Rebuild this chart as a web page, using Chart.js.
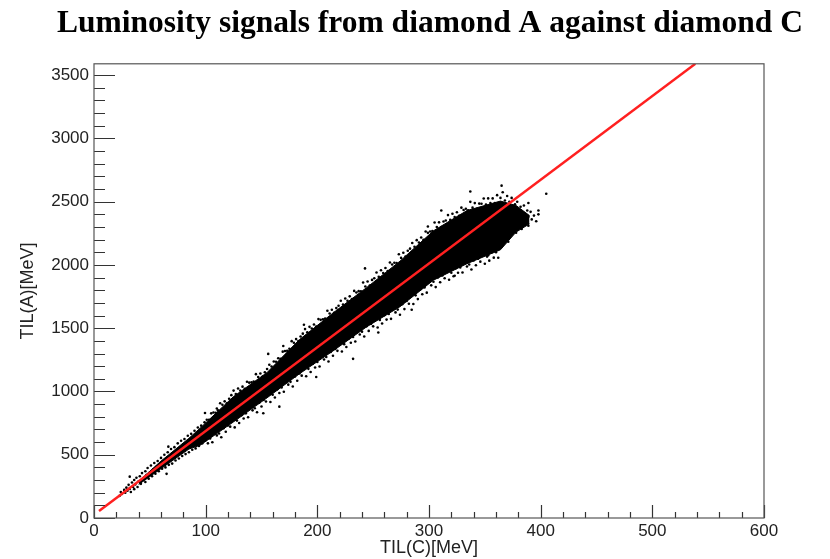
<!DOCTYPE html>
<html>
<head>
<meta charset="utf-8">
<script src="https://cdn.jsdelivr.net/npm/chart.js@4.4.1/dist/chart.umd.min.js"></script>
<style>
  html, body { margin: 0; padding: 0; background: #fff; }
  canvas { display: block; }
</style>
</head>
<body>
<canvas id="showGraphLumi" width="830" height="559"></canvas>
<script>
// tick labels
var xTickLabels = [0, 100, 200, 300, 400, 500, 600];
var yTickLabels = [0, 500, 1000, 1500, 2000, 2500, 3000, 3500];

// red fit line (TIL(C), TIL(A)) end points
var lineC = [4.5, 538.5];
var lineA = [55, 3590];

// dense core of the cloud: upper and lower edge
var coreC     = [40, 60, 85, 95, 125, 155, 184, 214, 244, 274, 304, 334, 364, 378, 390];
var coreUpper = [290, 450, 630, 710, 960, 1150, 1410, 1620, 1820, 2030, 2270, 2430, 2505, 2470, 2390];
var coreLower = [265, 390, 545, 575, 760, 950, 1140, 1320, 1510, 1670, 1880, 2010, 2120, 2260, 2325];

// single events [TIL(C), TIL(A)]: the sparse low tail
var tailEvents = [[23,175],[24,205],[25,190],[27,222],[28,200],[29,240],[30,215],[31,262],[32,230],[33,205],[34,280],[35,245],
  [36,300],[36,228],[37,265],[38,318],[39,245],[40,290],[41,330],[42,270],[43,355],[44,300],[45,320],[46,370],[46,285],[47,340],
  [48,395],[49,310],[50,360],[51,415],[52,330],[53,385],[54,435],[55,350],[56,405],[57,450],[58,370],[59,425],[60,475],[61,390],
  [62,445],[63,500],[64,400],[65,460],[66,520],[67,420],[68,480],[69,545],[70,430],[71,500],[72,560],[73,455],[74,520],[75,590],
  [76,470],[77,540],[78,610],[79,490],[80,560],[81,625],[82,505],[83,580],[84,650],[85,520],[86,600],[87,665],[88,540],[89,620],
  [90,690],[91,550],[92,640],[93,715],[94,570],[95,660],[96,730],[97,590],[98,700]];

// events on the upper and lower edge of the core
var edgeEvents = [[99,756],[100,614],[101,777],[102,590],[103,777],[104,628],[105,827],[106,599],[107,834],[108,673],[109,832],[110,653],
  [111,851],[112,668],[113,907],[114,638],[115,895],[116,710],[117,922],[118,682],[119,907],[120,732],[121,942],[122,722],
  [123,971],[124,769],[125,1007],[126,716],[127,980],[128,770],[129,1023],[130,751],[131,1007],[132,812],[133,1038],[134,786],
  [135,1021],[136,827],[137,1077],[138,796],[139,1070],[140,873],[141,1072],[142,851],[143,1078],[144,868],[145,1137],[146,836],
  [147,1115],[148,911],[149,1142],[150,881],[151,1119],[152,934],[153,1152],[154,921],[155,1178],[156,972],[157,1211],[158,917],
  [159,1197],[160,974],[161,1237],[162,952],[163,1235],[164,1017],[165,1263],[166,988],[167,1259],[168,1032],[169,1315],[170,998],
  [171,1319],[172,1080],[173,1321],[174,1054],[175,1338],[176,1076],[177,1398],[178,1039],[179,1385],[180,1119],[181,1414],[182,1085],
  [183,1399],[184,1143],[185,1435],[186,1125],[187,1457],[188,1179],[189,1493],[190,1120],[191,1468],[192,1179],[193,1511],[194,1154],
  [195,1498],[196,1220],[197,1529],[198,1189],[199,1514],[200,1233],[201,1572],[202,1198],[203,1566],[204,1278],[205,1570],[206,1253],
  [207,1577],[208,1272],[209,1638],[210,1237],[211,1616],[212,1313],[213,1646],[214,1282],[215,1622],[216,1336],[217,1659],[218,1321],
  [219,1678],[220,1373],[221,1717],[222,1316],[223,1688],[224,1374],[225,1735],[226,1351],[227,1717],[228,1417],[229,1752],[230,1385],
  [231,1731],[232,1431],[233,1795],[234,1395],[235,1782],[236,1477],[237,1793],[238,1450],[239,1792],[240,1473],[241,1861],[242,1434],
  [243,1830],[244,1515],[245,1869],[246,1479],[247,1837],[248,1534],[249,1882],[250,1515],[251,1895],[252,1567],[253,1940],[254,1506],
  [255,1906],[256,1565],[257,1958],[258,1537],[259,1936],[260,1603],[261,1976],[262,1568],[263,1952],[264,1613],[265,2019],[266,1574],
  [267,2004],[268,1656],[269,2017],[270,1625],[271,2015],[272,1647],[273,2085],[274,1606],[275,2056],[276,1690],[277,2096],[278,1651],
  [279,2067],[280,1716],[281,2112],[282,1694],[283,2129],[284,1756],[285,2174],[286,1692],[287,2144],[288,1760],[289,2196],[290,1730],
  [291,2178],[292,1805],[293,2217],[294,1768],[295,2198],[296,1822],[297,2264],[298,1781],[299,2254],[300,1871],[301,2265],[302,1839],
  [303,2268],[304,1867],[305,2336],[306,1825],[307,2300],[308,1901],[309,2337],[310,1863],[311,2300],[312,1917],[313,2343],[314,1895],
  [315,2352],[316,1946],[317,2394],[318,1883],[319,2356],[320,1939],[321,2405],[322,1911],[323,2379],[324,1974],[325,2417],[326,1938],
  [327,2389],[328,1980],[329,2453],[330,1941],[331,2434],[332,2018],[333,2444],[334,1988],[335,2432],[336,2004],[337,2499],[338,1964],
  [339,2453],[340,2036],[341,2489],[342,1998],[343,2443],[344,2049],[345,2485],[346,2026],[347,2484],[348,2075],[349,2525],[350,2010],
  [351,2477],[352,2066],[353,2526],[354,2034],[355,2490],[356,2098],[357,2526],[358,2058],[359,2489],[360,2101],[361,2552],[362,2057]];

// events at the high end of the cloud
var topEvents = [[364,2530],[365,2160],[366,2575],[367,2190],[368,2510],[369,2205],[370,2545],[371,2235],[372,2500],[373,2250],
  [374,2530],[375,2270],[377,2480],[378,2255],[379,2500],[380,2300],[382,2460],[383,2285],[385,2470],[386,2330],[388,2430],
  [389,2310],[391,2420],[392,2360],[394,2390],[396,2345],[398,2400]];

// stray events away from the band
var strayEvents = [[405,2563],[398,2431],[389,2490],[389,2382],[371,2184],[353,2077],[365,2627],[337,2581],[311,2431],[299,2304],
  [323,1915],[284.5,1646],[254.6,1466],[242.7,1973],[232,1258],[199,1115],[188,1527],[169.5,1360],[156,1297],[166,880],
  [151.6,828],[110,866],[99.4,830],[66.6,564],[32,327],[65,349]];

var myChartLumi;

function pairs(xs, ys) {
    return xs.map(function (x, i) { return { x: x, y: ys[i] }; });
}

function points(list) {
    return list.map(function (p) { return { x: p[0], y: p[1] }; });
}

// ROOT style frame with ticks drawn inside the plot
var rootAxes = {
    id: 'rootAxes',
    afterDatasetsDraw: function (chart) {
        var ctx = chart.ctx, a = chart.chartArea;
        var xs = chart.scales.x, ys = chart.scales.y;
        ctx.save();
        ctx.strokeStyle = '#333';
        ctx.lineWidth = 1.2;
        ctx.beginPath();
        xs.ticks.forEach(function (t) {
            var px = Math.round(xs.getPixelForValue(t.value)) + 0.5;
            var len = xTickLabels.indexOf(t.value) >= 0 ? 13 : 6;
            ctx.moveTo(px, a.bottom);
            ctx.lineTo(px, a.bottom - len);
        });
        ys.ticks.forEach(function (t) {
            var py = Math.round(ys.getPixelForValue(t.value)) + 0.5;
            var len = yTickLabels.indexOf(t.value) >= 0 ? 21 : 11;
            ctx.moveTo(a.left, py);
            ctx.lineTo(a.left + len, py);
        });
        ctx.stroke();
        ctx.strokeStyle = '#555';
        ctx.strokeRect(a.left, a.top, a.right - a.left, a.bottom - a.top);
        ctx.restore();
    }
};

function drawLumi() {
    var xMinor = [], yMinor = [];
    for (var v = 0; v <= 600; v += 20) xMinor.push({ value: v });
    for (var w = 0; w <= 3500; w += 100) yMinor.push({ value: w });

    var events = points(tailEvents).concat(points(edgeEvents), points(topEvents), points(strayEvents));

    var datasets = [
        {
            type: 'line',
            label: 'fit',
            data: pairs(lineC, lineA),
            showLine: true,
            borderColor: '#ff2020',
            borderWidth: 2.5,
            pointRadius: 0,
            fill: false,
            order: 0
        },
        {
            label: 'events',
            data: events,
            backgroundColor: '#000',
            borderWidth: 0,
            pointRadius: 1.3,
            order: 1
        },
        {
            type: 'line',
            label: 'core upper',
            data: pairs(coreC, coreUpper),
            showLine: true,
            borderColor: '#000',
            borderWidth: 1,
            pointRadius: 0,
            backgroundColor: '#000',
            fill: '+1',
            order: 2
        },
        {
            type: 'line',
            label: 'core lower',
            data: pairs(coreC, coreLower),
            showLine: true,
            borderColor: '#000',
            borderWidth: 1,
            pointRadius: 0,
            fill: false,
            order: 3
        }
    ];

    var config = {
        type: 'scatter',
        data: { datasets: datasets },
        options: {
            responsive: false,
            animation: false,
            devicePixelRatio: 1,
            layout: { padding: { left: 30, right: 0, top: 0, bottom: 0 } },
            plugins: {
                legend: { display: false },
                tooltip: { enabled: false },
                title: {
                    display: true,
                    text: 'Luminosity signals from diamond A against diamond C',
                    color: '#000',
                    font: { family: '"Liberation Serif", "Times New Roman", serif', size: 31.5, weight: 'bold' },
                    padding: { top: 5, bottom: 21 }
                }
            },
            scales: {
                x: {
                    type: 'linear',
                    min: 0,
                    max: 600,
                    afterBuildTicks: function (s) { s.ticks = xMinor; },
                    afterFit: function (s) { s.height = 41; },
                    grid: { display: false, drawTicks: false },
                    border: { display: false },
                    ticks: {
                        autoSkip: false,
                        maxRotation: 0,
                        padding: 3,
                        color: '#222',
                        font: { family: '"Liberation Sans", Arial, sans-serif', size: 17 },
                        callback: function (v) { return xTickLabels.indexOf(v) >= 0 ? String(v) : ''; }
                    },
                    title: {
                        display: true,
                        text: 'TIL(C)[MeV]',
                        color: '#222',
                        font: { family: '"Liberation Sans", Arial, sans-serif', size: 18 },
                        padding: { top: 0, bottom: 0 }
                    }
                },
                y: {
                    type: 'linear',
                    min: 0,
                    max: 3590,
                    afterBuildTicks: function (s) { s.ticks = yMinor; },
                    afterFit: function (s) { s.width = 64; },
                    grid: { display: false, drawTicks: false },
                    border: { display: false },
                    ticks: {
                        autoSkip: false,
                        padding: 5,
                        color: '#222',
                        font: { family: '"Liberation Sans", Arial, sans-serif', size: 17 },
                        callback: function (v) { return yTickLabels.indexOf(v) >= 0 ? String(v) : ''; }
                    },
                    title: {
                        display: true,
                        text: 'TIL(A)[MeV]',
                        color: '#222',
                        font: { family: '"Liberation Sans", Arial, sans-serif', size: 18 },
                        padding: { top: -13, bottom: 0 }
                    }
                },
                yRight: {
                    axis: 'y',
                    position: 'right',
                    display: true,
                    afterFit: function (s) { s.width = 66; },
                    grid: { display: false, drawTicks: false },
                    border: { display: false },
                    ticks: { display: false }
                }
            }
        },
        plugins: [rootAxes]
    };
    if (myChartLumi) {
        myChartLumi.destroy();
    }
    myChartLumi = new Chart(document.querySelector('#showGraphLumi').getContext('2d'), config);
}

drawLumi();
</script>
</body>
</html>
